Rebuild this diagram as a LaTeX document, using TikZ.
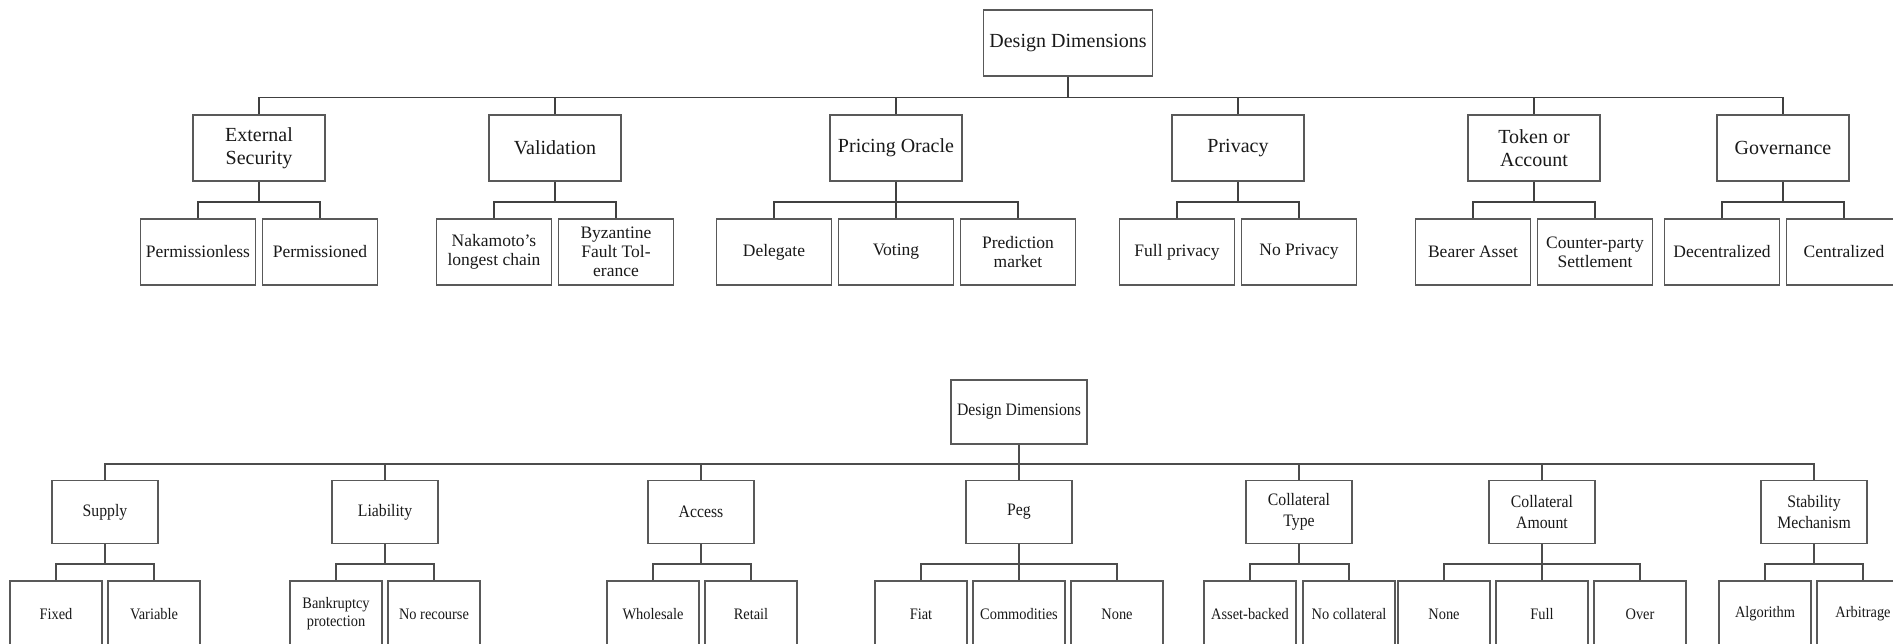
\documentclass[tikz,border=0pt]{standalone}
\usepackage{fontspec}
\setmainfont{Liberation Serif}
\newfontfamily\narrowserif[FakeStretch=0.9]{Liberation Serif}
\usetikzlibrary{calc}

\tikzset{
	box/.style={draw=black!65, line width=1.5pt, align=center, inner sep=2pt, text=black!90},
	toproot/.style={box, minimum width=169pt, minimum height=66pt, font=\fontsize{20}{23}\selectfont},
	topdim/.style={box, minimum width=132pt, minimum height=66pt, font=\fontsize{20}{23}\selectfont},
	topopt/.style={box, minimum width=115pt, minimum height=66pt, font=\fontsize{17.5}{19}\selectfont},
	botroot/.style={box, line width=1.2pt, minimum width=136pt, minimum height=64pt, font=\narrowserif\fontsize{17.5}{21}\selectfont},
	botdim/.style={box, line width=1.2pt, minimum width=106pt, minimum height=63pt, font=\narrowserif\fontsize{17.5}{21.5}\selectfont},
	botopt/.style={box, line width=1.2pt, minimum width=92pt, minimum height=66pt, font=\narrowserif\fontsize{16}{18}\selectfont},
	link/.style={draw=black!75, line width=1.5pt},
	thinlink/.style={draw=black!70, line width=1.2pt},
}

% parent down to a bus, bus across from first to last child
\newcommand{\branchlinks}[4][link]{%
	\draw[#1] (#2.south) -- ($(#2.south)!.55!(#2.south |- #3.north)$) coordinate (bus);
	\draw[#1] (#3.north) |- (bus) -| (#4.north);
}

\begin{document}
\begin{tikzpicture}[x=1pt,y=-1pt]
			\useasboundingbox (0,0) rectangle (1893,643);
			% upper tree
			\node[toproot] (dd) at (1068,43) {Design Dimensions};
			\node[topdim] (es) at (259,148) {External\\Security};
			\node[topdim] (val) at (555,148) {Validation};
			\node[topdim] (po) at (896,148) {Pricing Oracle};
			\node[topdim] (priv) at (1238,148) {Privacy};
			\node[topdim] (tok) at (1534,148) {Token or\\Account};
			\node[topdim] (gov) at (1783,148) {Governance};
			\node[topopt] (es1) at (198,252) {Permissionless};
			\node[topopt] (es2) at (320,252) {Permissioned};
			\node[topopt] (val1) at (494,252) {Nakamoto's\\longest chain};
			\node[topopt] (val2) at (616,252) {Byzantine\\Fault Tol-\\erance};
			\node[topopt] (po1) at (774,252) {Delegate};
			\node[topopt] (po2) at (896,252) {Voting};
			\node[topopt] (po3) at (1018,252) {Prediction\\market};
			\node[topopt] (priv1) at (1177,252) {Full privacy};
			\node[topopt] (priv2) at (1299,252) {No Privacy};
			\node[topopt] (tok1) at (1473,252) {Bearer Asset};
			\node[topopt] (tok2) at (1595,252) {Counter-party\\Settlement};
			\node[topopt] (gov1) at (1722,252) {Decentralized};
			\node[topopt] (gov2) at (1844,252) {Centralized};
			\branchlinks{dd}{es}{gov}
			\foreach \c in {val,po,priv,tok}
				\draw[link] (\c.north) -- (\c.north |- bus);
			\branchlinks{es}{es1}{es2}
			\branchlinks{val}{val1}{val2}
			\branchlinks{po}{po1}{po3}
			\draw[link] (po.south) -- (po2.north);
			\branchlinks{priv}{priv1}{priv2}
			\branchlinks{tok}{tok1}{tok2}
			\branchlinks{gov}{gov1}{gov2}
			% lower tree
			\node[botroot] (bdd) at (1019,412) {Design Dimensions};
			\node[botdim] (sup) at (105,512) {Supply};
			\node[botdim] (lia) at (385,512) {Liability};
			\node[botdim] (acc) at (701,512) {Access};
			\node[botdim] (peg) at (1019,512) {Peg};
			\node[botdim] (ctype) at (1299,512) {Collateral\\Type};
			\node[botdim] (camt) at (1542,512) {Collateral\\Amount};
			\node[botdim] (stab) at (1814,512) {Stability\\Mechanism};
			\node[botopt] (sup1) at (56,614) {Fixed};
			\node[botopt] (sup2) at (154,614) {Variable};
			\node[botopt] (lia1) at (336,614) {Bankruptcy\\protection};
			\node[botopt] (lia2) at (434,614) {No recourse};
			\node[botopt] (acc1) at (653,614) {Wholesale};
			\node[botopt] (acc2) at (751,614) {Retail};
			\node[botopt] (peg1) at (921,614) {Fiat};
			\node[botopt] (peg2) at (1019,614) {Commodities};
			\node[botopt] (peg3) at (1117,614) {None};
			\node[botopt] (ctype1) at (1250,614) {Asset-backed};
			\node[botopt] (ctype2) at (1349,614) {No collateral};
			\node[botopt] (camt1) at (1444,614) {None};
			\node[botopt] (camt2) at (1542,614) {Full};
			\node[botopt] (camt3) at (1640,614) {Over};
			\node[botopt] (stab1) at (1765,614) {Algorithm};
			\node[botopt] (stab2) at (1863,614) {Arbitrage};
			\branchlinks[thinlink]{bdd}{sup}{stab}
			\foreach \c in {lia,acc,ctype,camt}
				\draw[thinlink] (\c.north) -- (\c.north |- bus);
			\draw[thinlink] (bdd.south) -- (peg.north);
			\branchlinks[thinlink]{sup}{sup1}{sup2}
			\branchlinks[thinlink]{lia}{lia1}{lia2}
			\branchlinks[thinlink]{acc}{acc1}{acc2}
			\branchlinks[thinlink]{peg}{peg1}{peg3}
			\draw[thinlink] (peg.south) -- (peg2.north);
			\branchlinks[thinlink]{ctype}{ctype1}{ctype2}
			\branchlinks[thinlink]{camt}{camt1}{camt3}
			\draw[thinlink] (camt.south) -- (camt2.north);
			\branchlinks[thinlink]{stab}{stab1}{stab2}
		\end{tikzpicture}
\end{document}
